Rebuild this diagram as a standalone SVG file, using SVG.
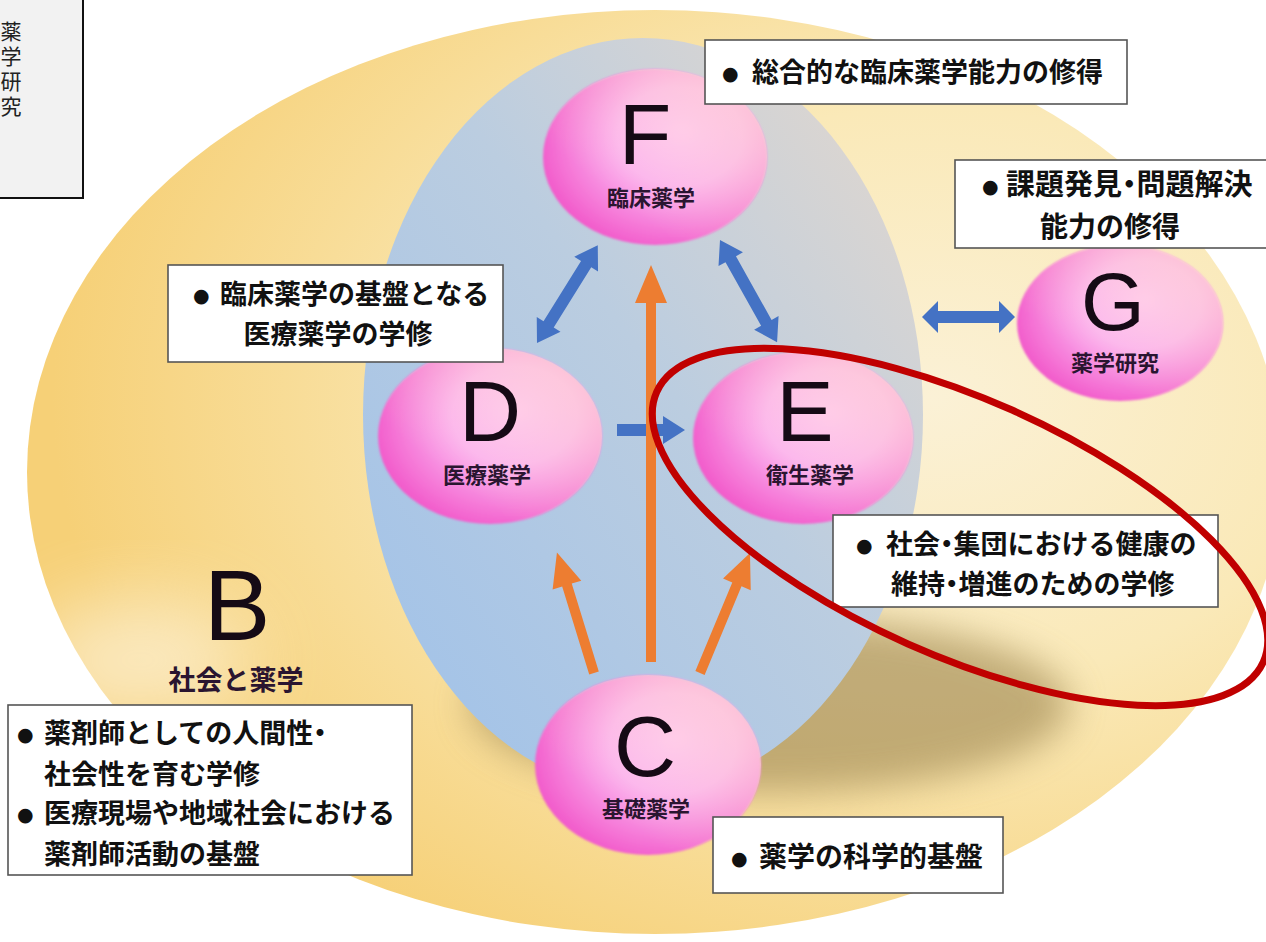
<svg xmlns="http://www.w3.org/2000/svg" width="1266" height="942" viewBox="0 0 1266 942">
<defs>
<radialGradient id="gYellow" cx="0.72" cy="0.42" r="0.7">
<stop offset="0" stop-color="#FBF1D6"/>
<stop offset="0.45" stop-color="#FAE9B8"/>
<stop offset="1" stop-color="#F6D077"/>
</radialGradient>
<linearGradient id="gBlue" x1="0.1" y1="0.9" x2="0.9" y2="0.1">
<stop offset="0" stop-color="#A3C3E8"/>
<stop offset="0.55" stop-color="#BBCDE0"/>
<stop offset="1" stop-color="#DDD6D0"/>
</linearGradient>
<radialGradient id="gPink" cx="0.6" cy="0.42" r="0.62" fx="0.62" fy="0.35">
<stop offset="0" stop-color="#FFC6F6"/>
<stop offset="0.45" stop-color="#FCB4F1"/>
<stop offset="1" stop-color="#F25CCB"/>
</radialGradient>
<linearGradient id="gPeach" x1="1" y1="0" x2="0.3" y2="0.7">
<stop offset="0" stop-color="#FFD6D0" stop-opacity="0.8"/>
<stop offset="1" stop-color="#FFD6D0" stop-opacity="0"/>
</linearGradient>
<filter id="fBlur" x="-30%" y="-60%" width="160%" height="220%"><feGaussianBlur stdDeviation="18"/></filter>
<filter id="fSoft" x="-10%" y="-10%" width="120%" height="120%"><feGaussianBlur stdDeviation="1.2"/></filter>
<filter id="fWhite" x="-50%" y="-50%" width="200%" height="200%"><feGaussianBlur stdDeviation="40"/></filter>
<style>
.box{fill:#FFFFFF;stroke:#555555;stroke-width:1.6}
.bt{font-family:"Noto Sans CJK JP","Noto Sans CJK SC",sans-serif;font-weight:bold;font-size:27px;fill:#111111}
.p{font-feature-settings:"palt"}
.bul{font-family:"DejaVu Sans",sans-serif;font-size:19px;fill:#111111}
.big{font-family:"Liberation Sans",Arial,sans-serif;font-size:86px;fill:#150A15;text-anchor:middle}
.sub{font-family:"Noto Sans CJK JP","Noto Sans CJK SC",sans-serif;font-weight:bold;font-size:22px;fill:#2A1530;text-anchor:middle}
.node{fill:url(#gPink)}
.peach{fill:url(#gPeach)}
.blue{fill:#4472C4}
.orange{fill:#ED7D31}
</style>
</defs>
<rect width="1266" height="942" fill="#FFFFFF"/>
<g id="background">
<ellipse cx="655" cy="472" rx="628" ry="462" fill="url(#gYellow)"/>
<ellipse cx="140" cy="660" rx="110" ry="60" fill="#FFFFFF" opacity="0.55" filter="url(#fWhite)"/>
<ellipse cx="770" cy="705" rx="300" ry="88" fill="#A38B55" opacity="0.65" filter="url(#fBlur)"/>
<ellipse cx="643" cy="415" rx="280" ry="377" fill="url(#gBlue)"/>
</g>
<g id="corner-box">
<rect x="-2" y="-2" width="85" height="200" fill="#F2F2F2" stroke="#111111" stroke-width="2"/>
<text x="11" y="21" writing-mode="vertical-rl" font-family="Noto Sans CJK JP,sans-serif" font-size="21" letter-spacing="4" fill="#222222">薬学研究</text>
</g>
<g id="connectors">
<path class="blue" transform="translate(537,343) rotate(-58.1)" d="M0,0 L22,-14 L22,-6 L93,-6 L93,-14 L115,0 L93,14 L93,6 L22,6 L22,14 Z"/>
<path class="blue" transform="translate(720,240) rotate(60.8)" d="M0,0 L22,-14 L22,-6 L95,-6 L95,-14 L117,0 L95,14 L95,6 L22,6 L22,14 Z"/>
<path class="blue" transform="translate(922,317)" d="M0,0 L16,-16 L16,-6 L77,-6 L77,-16 L93,0 L77,16 L77,6 L16,6 L16,16 Z"/>
<path class="blue" transform="translate(617,430)" d="M0,-6 L46,-6 L46,-14 L68,0 L46,14 L46,6 L0,6 Z"/>
<path class="orange" transform="translate(651,662) rotate(-90)" d="M0,-5 L359,-5 L359,-16 L397,0 L359,16 L359,5 L0,5 Z"/>
<path class="orange" transform="translate(594,673) rotate(-107.1)" d="M0,-5 L92,-5 L92,-15 L126,0 L92,15 L92,5 L0,5 Z"/>
<path class="orange" transform="translate(700,673) rotate(-67.4)" d="M0,-5 L96,-5 L96,-15 L130,0 L96,15 L96,5 L0,5 Z"/>
</g>
<g id="node-F">
<ellipse class="node" cx="655" cy="157" rx="112" ry="88" filter="url(#fSoft)"/>
<ellipse class="peach" cx="655" cy="157" rx="112" ry="88"/>
<text class="big" x="645" y="164">F</text>
<text class="sub" x="651" y="206">臨床薬学</text>
</g>
<g id="node-D">
<ellipse class="node" cx="490" cy="436" rx="112" ry="88" filter="url(#fSoft)"/>
<ellipse class="peach" cx="490" cy="436" rx="112" ry="88"/>
<text class="big" x="490" y="441">D</text>
<text class="sub" x="487" y="483">医療薬学</text>
</g>
<g id="node-E">
<ellipse class="node" cx="803" cy="438" rx="110" ry="86" filter="url(#fSoft)"/>
<ellipse class="peach" cx="803" cy="438" rx="110" ry="86"/>
<text class="big" x="805" y="441">E</text>
<text class="sub" x="810" y="483">衛生薬学</text>
</g>
<g id="node-C">
<ellipse class="node" cx="648" cy="765" rx="113" ry="90" filter="url(#fSoft)"/>
<ellipse class="peach" cx="648" cy="765" rx="113" ry="90"/>
<text class="big" x="645" y="776">C</text>
<text class="sub" x="646" y="817">基礎薬学</text>
</g>
<g id="node-G">
<ellipse class="node" cx="1120" cy="323" rx="103" ry="78" filter="url(#fSoft)"/>
<ellipse class="peach" cx="1120" cy="323" rx="103" ry="78"/>
<text class="big" x="1113" y="330" style="font-size:82px">G</text>
<text class="sub" x="1115" y="371">薬学研究</text>
</g>
<g id="node-B">
<text class="big" x="237" y="640" style="font-size:100px">B</text>
<text class="sub" x="236" y="690" style="font-size:27px">社会と薬学</text>
</g>
<g id="box-F">
<rect class="box" x="705" y="40" width="422" height="64"/>
<text class="bul" x="722" y="80">●</text>
<text class="bt" x="752" y="82">総合的な臨床薬学能力の修得</text>
</g>
<g id="box-G">
<rect class="box" x="955" y="160" width="320" height="88"/>
<text class="bul" x="982" y="193">●</text>
<text class="bt" x="1006" y="195" style="font-size:29px">課題発見<tspan class="p">・</tspan>問題解決</text>
<text class="bt" x="1110" y="237" text-anchor="middle" style="font-size:28px">能力の修得</text>
</g>
<g id="box-D">
<rect class="box" x="168" y="265" width="335" height="97"/>
<text class="bul" x="193" y="302">●</text>
<text class="bt" x="220" y="304">臨床薬学の基盤となる</text>
<text class="bt" x="338" y="344" text-anchor="middle">医療薬学の学修</text>
</g>
<g id="box-E">
<rect class="box" x="833" y="515" width="385" height="92"/>
<text class="bul" x="856" y="552">●</text>
<text class="bt" x="886" y="554">社会<tspan class="p">・</tspan>集団における健康の</text>
<text class="bt" x="891" y="594">維持<tspan class="p">・</tspan>増進のための学修</text>
</g>
<g id="box-C">
<rect class="box" x="713" y="817" width="290" height="76"/>
<text class="bul" x="731" y="865">●</text>
<text class="bt" x="759" y="867" style="font-size:28px">薬学の科学的基盤</text>
</g>
<g id="box-B">
<rect class="box" x="8" y="705" width="404" height="170"/>
<text class="bul" x="17" y="741">●</text>
<text class="bt" x="44" y="743">薬剤師としての人間性<tspan class="p">・</tspan></text>
<text class="bt" x="44" y="784">社会性を育む学修</text>
<text class="bul" x="17" y="821">●</text>
<text class="bt" x="44" y="823">医療現場や地域社会における</text>
<text class="bt" x="44" y="864">薬剤師活動の基盤</text>
</g>
<g id="highlight">
<ellipse cx="960" cy="527" rx="332" ry="128" transform="rotate(24 960 527)" fill="none" stroke="#C00000" stroke-width="7"/>
</g>
</svg>
